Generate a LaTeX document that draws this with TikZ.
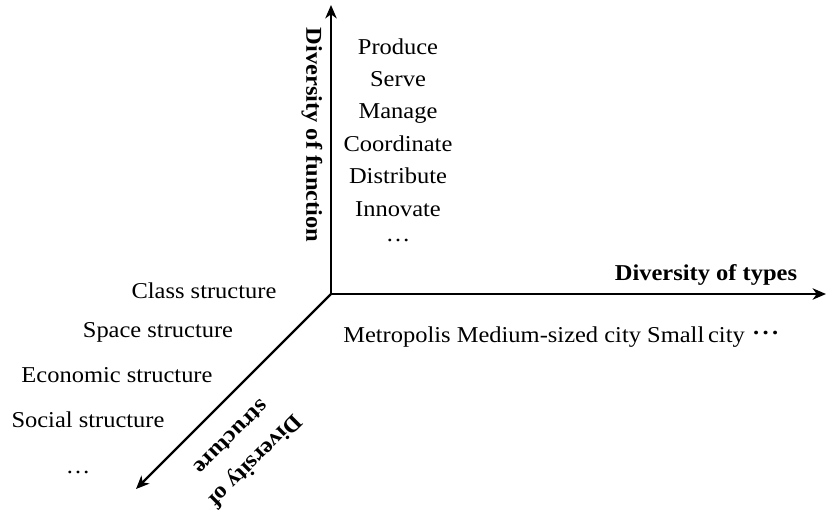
\documentclass[tikz,border=0pt]{standalone}
\usepackage{fontspec}
\setmainfont{Liberation Serif}[FakeStretch=1.08]
\usetikzlibrary{arrows.meta}

\begin{document}
\begin{tikzpicture}[x=0.75pt,y=-0.75pt,
  axis/.style={line width=1.6pt,-{Stealth[length=10pt,width=8.5pt,inset=3pt]}},
  item/.style={font=\fontsize{17}{20}\selectfont,inner sep=0pt,anchor=base},
  axlabel/.style={font=\fontsize{17}{25}\selectfont\bfseries,inner sep=0pt,align=center}]
\useasboundingbox (0,0) rectangle (827,513);

% origin and free ends of the three axes
\coordinate (O) at (331,294);
\coordinate (ftip) at (331,5);
\coordinate (ttip) at (826,294);
\coordinate (stip) at (136,489);

\draw[axis] (O) -- (ftip);
\draw[axis] (O) -- (ttip);
\draw[axis] (O) -- (stip);

% axis titles
\node[axlabel,rotate=-90] (tfun) at (312,135) {Diversity of function};
\node[axlabel,anchor=base] (ttyp) at (706,280) {Diversity of types};
\node[axlabel,rotate=-135] (tstr) at (244,450) {Diversity of\\structure};

% functions
\node[item] (f1) at (398,55)  {Produce};
\node[item] (f2) at (398,87)  {Serve};
\node[item] (f3) at (398,119) {Manage};
\node[item] (f4) at (398,152) {Coordinate};
\node[item] (f5) at (398,184) {Distribute};
\node[item] (f6) at (398,217) {Innovate};
\node[item] (f7) at (398,242) {\dots};

% city types
\node[item,anchor=base west] (c1) at (343,342)
  {Metropolis Medium-sized city Small\,city \textbf{\raisebox{1.5pt}{\kern1pt·\kern1pt·\kern1pt·}}};

% structures
\node[item] (s1) at (204,298) {Class structure};
\node[item] (s2) at (158,337) {Space structure};
\node[item] (s3) at (117,382) {Economic structure};
\node[item] (s4) at (88,427)  {Social structure};
\node[item] (s5) at (78,473)  {\dots};
\end{tikzpicture}
\end{document}
